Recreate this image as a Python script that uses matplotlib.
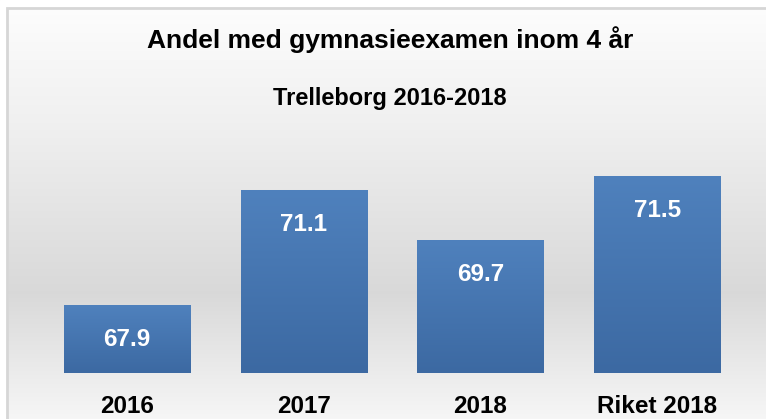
import numpy as np
import matplotlib
matplotlib.use("Agg")
import matplotlib.pyplot as plt
from matplotlib.patches import Rectangle
from matplotlib.colors import LinearSegmentedColormap

categories = ["2016", "2017", "2018", "Riket 2018"]
values = [67.9, 71.1, 69.7, 71.5]
title = "Andel med gymnasieexamen inom 4 år"
subtitle = "Trelleborg 2016-2018"

plt.rcParams['font.family'] = ['Liberation Sans', 'DejaVu Sans']

W, H = 766, 419
fig = plt.figure(figsize=(W / 100, H / 100), dpi=100)

# background gradient
bg = fig.add_axes([0, 0, 1, 1], zorder=0)
bg.set_axis_off()
ys = np.linspace(0, 1, 400)  # 0 = top
stops_y = [0.0, 0.3, 0.70, 1.0]
stops_v = [0.995, 0.94, 0.85, 0.965]
vals = np.interp(ys, stops_y, stops_v)
img = np.repeat(vals[:, None], 2, axis=1)
bg.imshow(np.dstack([img, img, img]), aspect='auto', extent=[0, 1, 0, 1], origin='upper')
bg.set_xlim(0, 1)
bg.set_ylim(0, 1)
bg.add_patch(Rectangle((0, 1 - 8 / H), 1, 8 / H, color='white', zorder=2))
bg.add_patch(Rectangle((0, 0), 7 / W, 1, color='white', zorder=2))
bg.add_patch(Rectangle((7 / W, -0.1), 1.1, 1 - 8 / H + 0.1, fill=False,
                       edgecolor='#d6d6d6', linewidth=2.0, zorder=3))

ax = fig.add_axes([38.6 / W, 46.3 / H, 707 / W, 214.7 / H], zorder=1)
ax.patch.set_alpha(0)
x = np.arange(len(categories))
bars = ax.bar(x, values, width=0.713, bottom=0, color='#4a7ab5', zorder=2)
ax.set_ylim(66, 72)
ax.set_xlim(-0.5, len(categories) - 0.5)

cmap = LinearSegmentedColormap.from_list('bargrad', ['#4f81bd', '#3c69a2'])
grad = np.linspace(0, 1, 256)[:, None]
for b in bars:
    x0, w = b.get_x(), b.get_width()
    top = b.get_height()
    im = ax.imshow(grad, cmap=cmap, aspect='auto', extent=[x0, x0 + w, 66, top],
                   origin='upper', zorder=3)
    im.set_clip_path(b)

for xi, v in zip(x, values):
    ax.annotate(f"{v:.1f}", xy=(xi, v), xytext=(0, -34.5), textcoords='offset pixels',
                ha='center', va='center', color='white', fontsize=17.5,
                fontweight='bold', zorder=4)

ax.set_xticks(x)
ax.set_xticklabels(categories, fontsize=17.5, fontweight='bold')
ax.tick_params(axis='x', length=0, pad=16)
ax.set_yticks([])
for s in ax.spines.values():
    s.set_visible(False)

fig.text(390 / W, 1 - 40 / H, title, ha='center', va='center', fontsize=19, fontweight='bold')
fig.text(390 / W, 1 - 99 / H, subtitle, ha='center', va='center', fontsize=17, fontweight='bold')

fig.savefig("out.png", dpi=100)
